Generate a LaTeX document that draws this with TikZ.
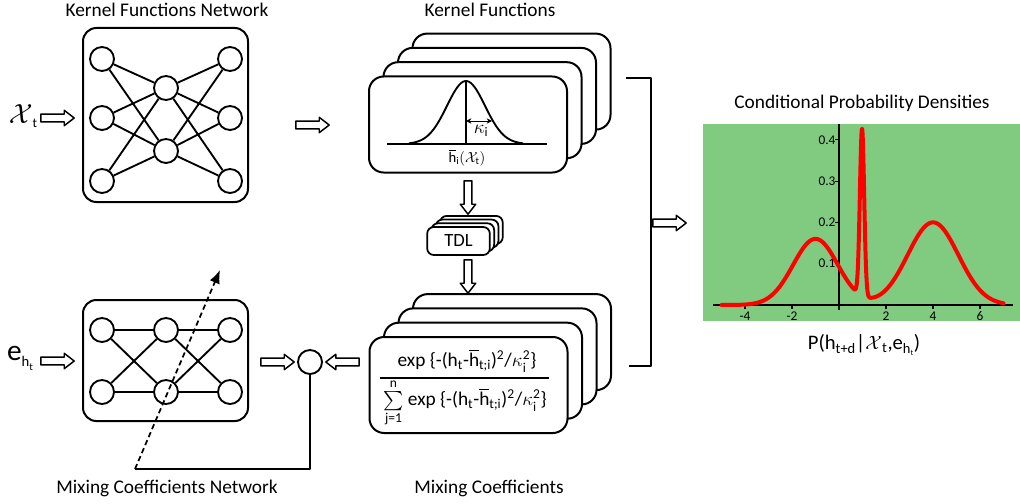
\documentclass[tikz,border=0pt]{standalone}
\usepackage{fontspec}
\setmainfont{Carlito}
\usepackage{amsmath}
\usetikzlibrary{shapes.arrows,arrows.meta}
\definecolor{plotgreen}{RGB}{128,203,128}
\newcommand{\tx}[1]{\text{#1}}
\begin{document}
\begin{tikzpicture}[x=0.75pt,y=-0.75pt,line join=round,
  netbox/.style={draw,line width=1.5pt,rounded corners=10pt,fill=white,minimum width=123.75pt,inner sep=0pt},
  neuron/.style={circle,draw,line width=1.4pt,minimum size=18pt,inner sep=0pt,fill=white},
  syn/.style={line width=1.4pt},
  card/.style={draw,line width=1.5pt,rounded corners=11pt,fill=white,minimum width=148.5pt,minimum height=72pt,inner sep=0pt},
  tdlcard/.style={draw,line width=1.3pt,rounded corners=5pt,fill=white,minimum width=47pt,minimum height=21pt,inner sep=0pt},
  hollow/.style={single arrow,draw,line width=1.1pt,fill=white,minimum height=25pt,inner sep=2.4pt,single arrow head extend=2.8pt,single arrow tip angle=75},
  title/.style={font=\fontsize{14.5}{16}\selectfont},
  ticklab/.style={font=\fontsize{10}{12}\selectfont}
]
\useasboundingbox (0,0) rectangle (1020,503);

% ---------- titles
\node[title] (t1) at (167,10) {Kernel Functions Network};
\node[title] (t2) at (490,10) {Kernel Functions};
\node[title] (t3) at (167,488) {Mixing Coefficients Network};
\node[title] (t4) at (489,488) {Mixing Coefficients};
\node[title] (t5) at (862,103) {Conditional Probability Densities};

% ---------- kernel functions network
\node[netbox,minimum height=130.5pt] (knet) at (165.5,115) {};
\foreach \n/\x/\y in {L1/102/59,L2/102/118,L3/102/181,M1/166/88,M2/166/151,R1/230/59,R2/230/118,R3/230/181}
  \node[neuron] (\n) at (\x,\y) {};
\foreach \a in {L1,L2,L3,R1,R2,R3}
  \foreach \b in {M1,M2}
    \draw[syn] (\a) -- (\b);

% input x_t
\node (xin) at (23,116) {\fontsize{21}{22}\selectfont$\mathcal{X}$\raisebox{-3pt}{\fontsize{10}{11}\selectfont t}};
\node[hollow] (ax) at (55,118) {};
\node[hollow] (ak) at (310,125) {};

% ---------- mixing coefficients network
\node[netbox,minimum height=90.75pt] (mnet) at (165.5,360.5) {};
\foreach \n/\x/\y in {A1/102/330,A2/166/330,A3/230/330,B1/102/392,B2/166/392,B3/230/392}
  \node[neuron] (\n) at (\x,\y) {};
\draw[syn] (A1) -- (A2) (A2) -- (A3) (B1) -- (B2) (B2) -- (B3)
  (A1) -- (B2) (B1) -- (A2) (A2) -- (B3) (B2) -- (A3);

% input e_ht
\node (ein) at (20,358) {\fontsize{22}{24}\selectfont e\raisebox{-5pt}{\fontsize{11}{12}\selectfont h\raisebox{-2.5pt}{\fontsize{8}{9}\selectfont t}}};
\node[hollow] (ae) at (55,361) {};

% ---------- sum node and arrows
\node[neuron] (sum) at (310,362) {};
\node[hollow] (am) at (275,362) {};
\node[hollow,shape border rotate=180] (ac) at (345,362) {};

% feedback line and dashed arrow
\coordinate (fb) at (135,469);
\coordinate (tip) at (220,270);
\draw[line width=1.4pt] (sum) |- (fb);
\draw[line width=1.3pt,dash pattern=on 4pt off 2.5pt,-{Latex[length=10pt,width=8pt]}] (fb) -- (tip);

% ---------- kernel functions stack
\node[card] (k4) at (511.5,81.6) {};
\node[card] (k3) at (497,95.9) {};
\node[card] (k2) at (482.5,110.2) {};
\node[card] (k1) at (468,124.5) {};
\draw[line width=1.5pt] (387,144) -- (547,144);
\draw[line width=1.4pt,domain=-3:3,samples=60,smooth] plot ({466+19*\x},{144-63*exp(-\x*\x/2)});
\draw[line width=1.8pt] (466,81) -- (466,144);
\draw[line width=0.6pt,{Stealth[length=4pt,width=4pt]}-{Stealth[length=4pt,width=4pt]}] (466,121) -- (492,121);
\node[font=\fontsize{14}{15}\selectfont] (kap) at (481,131) {$\kappa_{\tx{i}}$};
\node[font=\fontsize{11}{12}\selectfont] (hbar) at (467,158) {$\overline{\tx{h}}_{\tx{i}}(\mathcal{X}_{\tx{t}})$};

% ---------- TDL stack
\node[tdlcard] (d4) at (471.4,229.9) {};
\node[tdlcard] (d3) at (467.1,233.6) {};
\node[tdlcard] (d2) at (462.8,237.3) {};
\node[tdlcard] (d1) at (458.5,241) {\fontsize{14}{15}\selectfont TDL};
\node[hollow,shape border rotate=270] (kd) at (468,195) {};
\node[hollow,shape border rotate=270] (dm) at (468,274) {};

% ---------- mixing coefficients stack
\node[card] (m4) at (512,342.1) {};
\node[card] (m3) at (497.5,356.4) {};
\node[card] (m2) at (483,370.7) {};
\node[card] (m1) at (468.5,385) {};
\node[font=\fontsize{14.5}{16}\selectfont,inner sep=0pt] (num) at (467,361) {exp \{-(h$_{\tx{t}}$-$\overline{\tx{h}}_{\tx{t;i}}$)$^{\tx{2}}$/$\kappa^{\tx{2}}_{\tx{i}}$\}};
\draw[line width=1.6pt] (380,378) -- (549,378);
\node[font=\fontsize{14.5}{16}\selectfont,inner sep=0pt] (den) at (465,403) {$\sum\limits_{\tx{j=1}}^{\tx{n}}$ exp \{-(h$_{\tx{t}}$-$\overline{\tx{h}}_{\tx{t;i}}$)$^{\tx{2}}$/$\kappa^{\tx{2}}_{\tx{i}}$\}};

% ---------- bracket
\coordinate (bt) at (626,78);
\coordinate (bb) at (629,366);
\draw[line width=1.7pt] (bt) -| (651,366) -- (bb);
\node[hollow] (ap) at (667,223) {};

% ---------- plot
\fill[plotgreen] (703,124) rectangle (1020,321);
\draw[line width=2.2pt] (713,305) -- (1013,305);
\draw[line width=2.2pt] (839,124) -- (839,310);
\foreach \v/\l in {-4/-4,-2/-2,2/2,4/4,6/6} {
  \draw[line width=0.8pt] ({839+23.5*\v},305) -- ({839+23.5*\v},309);
  \node[ticklab] at ({839+23.5*\v},316) {\l};
}
\foreach \v/\l in {0.1/0.1,0.2/0.2,0.3/0.3,0.4/0.4} {
  \draw[line width=0.8pt] (839,{305-413*\v}) -- (835,{305-413*\v});
  \node[ticklab,anchor=east,inner sep=1pt] at (837,{305-413*\v}) {\l};
}
\draw[red,line width=3pt,line cap=round,domain=-5:7,samples=500,smooth]
  plot ({839+23.5*\x},{305-413*(0.16*exp(max(-30,-0.55*(\x+1)*(\x+1)))+0.405*exp(max(-30,-60*(\x-0.98)*(\x-0.98)))+0.2*exp(max(-30,-0.43*(\x-4)*(\x-4))))});

\node[font=\fontsize{15.5}{17}\selectfont] (pl) at (864,345) {P(h\textsubscript{t+d}|$\mathcal{X}$\textsubscript{t},e\textsubscript{h\raisebox{-1.5pt}{\fontsize{6}{7}\selectfont t}})};
\end{tikzpicture}
\end{document}
